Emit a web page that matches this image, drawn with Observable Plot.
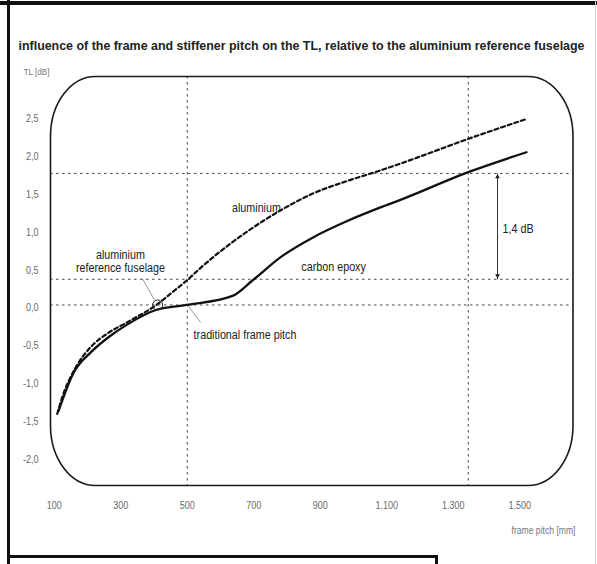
<!DOCTYPE html>
<html><head><meta charset="utf-8">
<script src="https://cdn.jsdelivr.net/npm/d3@7"></script>
<script src="https://cdn.jsdelivr.net/npm/@observablehq/plot@0.6"></script>
<style>
body{margin:0;background:#fff;}
#wrap{position:relative;width:597px;height:564px;overflow:hidden;background:#fff;}
#chart{position:absolute;left:0;top:0;}
.b{position:absolute;background:#111;}
</style></head><body>
<div id="wrap">
<div id="chart"></div>
<div class="b" style="left:0;top:1px;width:597px;height:4px"></div>
<div class="b" style="left:7px;top:0;width:3px;height:564px"></div>
<div class="b" style="left:7px;top:555px;width:431px;height:3px"></div>
<div class="b" style="left:435px;top:555px;width:3px;height:9px"></div>
<div class="b" style="left:595px;top:0;width:1px;height:564px;background:#ccc"></div>
</div>
<script>
// ---- data ----
const xTicks = [100, 300, 500, 700, 900, 1100, 1300, 1500];
const xTickLabels = ["100", "300", "500", "700", "900", "1.100", "1.300", "1.500"];
const yTicks = [2.5, 2, 1.5, 1, 0.5, 0, -0.5, -1, -1.5, -2];
const yTickLabels = ["2,5", "2,0", "1,5", "1,0", "0,5", "0,0", "-0,5", "-1,0", "-1,5", "-2,0"];

const alPitch = [109, 124, 159, 209, 259, 319, 410, 450, 500, 540, 580, 680, 780, 881, 981, 1081, 1141, 1347, 1520];
const alTL    = [-1.44, -1.22, -0.87, -0.56, -0.38, -0.23, 0.01, 0.15, 0.33, 0.49, 0.64, 0.97, 1.25, 1.48, 1.64, 1.78, 1.87, 2.20, 2.46];

const cfPitch = [113, 159, 209, 259, 319, 410, 498, 636, 695, 780, 881, 981, 1081, 1141, 1347, 1520];
const cfTL    = [-1.40, -0.89, -0.63, -0.44, -0.26, -0.06, 0.0, 0.12, 0.32, 0.63, 0.90, 1.11, 1.29, 1.39, 1.76, 2.02];

const gridX = [500, 1345];
const gridY = [0, 0.34, 1.74];

const arrowX = 1433, arrowLow = 0.34, arrowHigh = 1.74;
const refPoint = {x: 411, y: 0.0};

const centerLabels = ["aluminium", "carbon epoxy", "aluminium\nreference fuselage"];
const centerLabelX = [708, 940, 299];
const centerLabelY = [1.29, 0.51, 0.58];
const startLabels  = ["traditional frame pitch", "1,4 dB"];
const startLabelX  = [519, 1448];
const startLabelY  = [-0.40, 1.01];

const leaders = [
  {x1: 365, y1: 0.35, x2: 402, y2: 0.06},
  {x1: 504, y1: -0.02, x2: 540, y2: -0.23}
];

const title = "influence of the frame and stiffener pitch on the TL, relative to the aluminium reference fuselage";
const yAxisTitle = "TL [dB]";
const xAxisTitle = "frame pitch [mm]";

// ---- build ----
const alData = alPitch.map((x, i) => ({x, y: alTL[i]}));
const cfData = cfPitch.map((x, i) => ({x, y: cfTL[i]}));
const cLab = centerLabels.map((t, i) => ({t, x: centerLabelX[i], y: centerLabelY[i]}));
const sLab = startLabels.map((t, i) => ({t, x: startLabelX[i], y: startLabelY[i]}));
const xLab = new Map(xTicks.map((d, i) => [d, xTickLabels[i]]));
const yLab = new Map(yTicks.map((d, i) => [d, yTickLabels[i]]));
const font = "'Liberation Sans',Arial,Helvetica,sans-serif";
const dash = {stroke: "#444", strokeWidth: 1, strokeDasharray: "2.5,3.5"};

const chart = Plot.plot({
  width: 597, height: 564,
  marginLeft: 50, marginRight: 24.5, marginTop: 76, marginBottom: 79,
  x: {domain: [88.7, 1660]},
  y: {domain: [-2.388, 3.022]},
  style: {fontFamily: font, background: "transparent"},
  marks: [
    Plot.ruleX(gridX, dash),
    Plot.ruleY(gridY, dash),
    Plot.frame({rx: 45, ry: 60, stroke: "#1a1a1a", strokeWidth: 1.6}),
    Plot.axisX({ticks: xTicks, tickFormat: d => xLab.get(d), tickSize: 0, tickPadding: 16, fontSize: 11, color: "#6a6a6a", label: null}),
    Plot.axisY({ticks: yTicks, tickFormat: d => yLab.get(d), tickSize: 0, tickPadding: 12, dy: 3, fontSize: 11, color: "#6a6a6a", label: null}),
    Plot.line(alData, {x: "x", y: "y", curve: "monotone-x", stroke: "#111", strokeWidth: 2.2, strokeDasharray: "4,3"}),
    Plot.line(cfData, {x: "x", y: "y", curve: "monotone-x", stroke: "#111", strokeWidth: 2.3}),
    Plot.link([{x: arrowX, y1: arrowLow, y2: arrowHigh}], {x1: "x", x2: "x", y1: "y1", y2: "y2", stroke: "#333", strokeWidth: 1}),
    Plot.dot([{x: arrowX, y: arrowHigh}], {x: "x", y: "y", symbol: "triangle2", r: 2.3, fill: "#222", dy: 3.5}),
    Plot.dot([{x: arrowX, y: arrowLow}], {x: "x", y: "y", symbol: "triangle2", r: 2.3, fill: "#222", dy: -3.5, rotate: 180}),
    Plot.link(leaders, {x1: "x1", y1: "y1", x2: "x2", y2: "y2", stroke: "#888", strokeWidth: 0.9}),
    Plot.dot([refPoint], {x: "x", y: "y", r: 5, stroke: "#222", strokeWidth: 1, fill: "none"}),
    Plot.text(cLab, {x: "x", y: "y", text: "t", textAnchor: "middle", fontSize: 12.5, fill: "#222", lineHeight: 1.1}),
    Plot.text(sLab, {x: "x", y: "y", text: "t", textAnchor: "start", fontSize: 12.5, fill: "#222"}),
    Plot.text([yAxisTitle], {frameAnchor: "top-left", dx: -27, dy: -8, textAnchor: "start", fontSize: 9.5, fill: "#777"}),
    Plot.text([xAxisTitle], {frameAnchor: "bottom-right", dx: 2.5, dy: 48, textAnchor: "end", fontSize: 10, fill: "#777"}),
    Plot.text([title], {frameAnchor: "top-left", dx: -32, dy: -35, textAnchor: "start", fontSize: 12.5, fontWeight: "bold", fill: "#222"})
  ]
});
document.getElementById("chart").appendChild(chart);

// condense glyphs horizontally (the original uses a narrow typeface)
function squeeze(el, factor) {
  const spans = el.querySelectorAll("tspan");
  const targets = spans.length ? Array.from(spans) : [el];
  targets.forEach(s => {
    const w = s.getComputedTextLength();
    if (w > 0) {
      s.setAttribute("textLength", (w * factor).toFixed(1));
      s.setAttribute("lengthAdjust", "spacingAndGlyphs");
    }
  });
}
const annot = new Set([...centerLabels, ...startLabels, yAxisTitle, xAxisTitle]);
const tickSet = new Set([...xTickLabels, ...yTickLabels]);
chart.querySelectorAll("text").forEach(t => {
  const s = t.textContent;
  if (s === title) {
    t.setAttribute("textLength", 566);
    t.setAttribute("lengthAdjust", "spacingAndGlyphs");
  } else if (tickSet.has(s)) {
    squeeze(t, 0.82);
  } else if (annot.has(s) || s === centerLabels[2].replace("\n", "")) {
    squeeze(t, 0.86);
  } else if (t.querySelector("tspan")) {
    squeeze(t, 0.86);
  }
});
</script>
</body></html>
